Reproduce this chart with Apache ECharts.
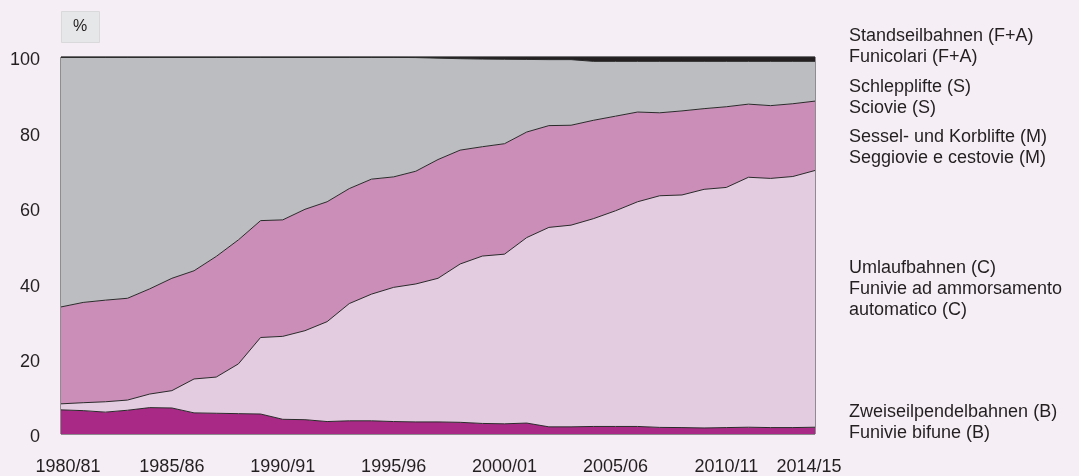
<!DOCTYPE html>
<html>
<head>
<meta charset="utf-8">
<script src="https://cdn.jsdelivr.net/npm/echarts@6/dist/echarts.min.js"></script>
<style>
  html, body { margin: 0; padding: 0; background: #f5eef5; }
  #chart { width: 1079px; height: 476px; }
</style>
</head>
<body>
<div id="chart"></div>
<script>
// Seasons 1980/81 – 2014/15
const years = [
  '1980/81','1981/82','1982/83','1983/84','1984/85','1985/86','1986/87','1987/88','1988/89','1989/90',
  '1990/91','1991/92','1992/93','1993/94','1994/95','1995/96','1996/97','1997/98','1998/99','1999/00',
  '2000/01','2001/02','2002/03','2003/04','2004/05','2005/06','2006/07','2007/08','2008/09','2009/10',
  '2010/11','2011/12','2012/13','2013/14','2014/15'
];
// Labelled seasons on the x axis
const shownYears = ['1980/81','1985/86','1990/91','1995/96','2000/01','2005/06','2010/11','2014/15'];
const yTicks = [0, 20, 40, 60, 80, 100];

// Share of each installation type, in %
const bifune = [6.4,6.2,5.8,6.3,7.0,6.9,5.6,5.5,5.4,5.3,3.9,3.8,3.3,3.5,3.5,3.3,3.2,3.2,3.1,2.8,
  2.7,2.9,1.9,1.9,2.0,2.0,2.0,1.75,1.7,1.6,1.7,1.8,1.7,1.7,1.8];
const umlauf = [1.6,2.1,2.75,2.7,3.6,4.6,9.0,9.6,13.2,20.3,22.0,23.6,26.5,31.1,33.6,35.6,36.6,38.1,42.0,44.4,
  45.0,49.2,52.9,53.5,55.1,57.2,59.6,61.45,61.7,63.3,63.7,66.3,66.1,66.6,68.1];
const sessel = [25.7,26.6,26.95,27.0,27.9,29.8,28.7,32.0,32.9,31.0,30.9,32.2,31.8,30.5,30.5,29.3,29.9,31.5,30.2,29.0,
  29.3,28.0,27.0,26.5,26.1,25.1,23.8,22.0,22.3,21.4,21.4,19.4,19.3,19.3,18.4];
const schlepp = [66.2,65.0,64.4,63.9,61.4,58.6,56.6,52.8,48.4,43.3,43.1,40.3,38.3,34.8,32.3,31.7,30.15,26.9,24.25,23.25,
  22.4,19.25,17.5,17.4,15.65,14.55,13.45,13.65,13.15,12.55,12.05,11.35,11.75,11.25,10.55];
const standseil = [0.1,0.1,0.1,0.1,0.1,0.1,0.1,0.1,0.1,0.1,0.1,0.1,0.1,0.1,0.1,0.1,0.15,0.3,0.45,0.55,
  0.6,0.65,0.7,0.7,1.15,1.15,1.15,1.15,1.15,1.15,1.15,1.15,1.15,1.15,1.15];

const FONT = '"Liberation Sans", Arial, sans-serif';
const TXT = '#231f20';

function layer(name, data, color) {
  return {
    name: name,
    type: 'line',
    stack: 'total',
    data: data,
    symbol: 'none',
    smooth: false,
    lineStyle: { color: '#2a2a2a', width: 1 },
    areaStyle: { color: color, opacity: 1 },
    emphasis: { disabled: true },
    silent: true
  };
}

const legendLines = [
  { y: 36, t: 'Standseilbahnen (F+A)' },
  { y: 57, t: 'Funicolari (F+A)' },
  { y: 87, t: 'Schlepplifte (S)' },
  { y: 108, t: 'Sciovie (S)' },
  { y: 137, t: 'Sessel- und Korblifte (M)' },
  { y: 158, t: 'Seggiovie e cestovie (M)' },
  { y: 268, t: 'Umlaufbahnen (C)' },
  { y: 289, t: 'Funivie ad ammorsamento' },
  { y: 310, t: 'automatico (C)' },
  { y: 412, t: 'Zweiseilpendelbahnen (B)' },
  { y: 433, t: 'Funivie bifune (B)' }
];

const chart = echarts.init(document.getElementById('chart'), null, { renderer: 'canvas' });
chart.setOption({
  backgroundColor: '#f5eef5',
  animation: false,
  grid: { left: 61, right: 264, top: 57, bottom: 42, show: true, borderColor: '#2a2a2a', borderWidth: 1, backgroundColor: 'transparent' },
  xAxis: {
    type: 'category',
    data: years,
    boundaryGap: false,
    axisLine: { show: false },
    axisTick: { show: false },
    splitLine: { show: false },
    axisLabel: {
      interval: (i, v) => shownYears.indexOf(v) >= 0,
      margin: 24,
      fontFamily: FONT,
      fontSize: 18,
      color: TXT,
      formatter: (v) => v === years[0] ? '{first|' + v + '}' : (v === years[years.length - 1] ? '{last|' + v + '}' : v),
      rich: {
        first: { padding: [0, 0, 0, 14], fontFamily: FONT, fontSize: 18, color: TXT },
        last: { padding: [0, 12, 0, 0], fontFamily: FONT, fontSize: 18, color: TXT }
      }
    }
  },
  yAxis: {
    type: 'value',
    min: yTicks[0],
    max: yTicks[yTicks.length - 1],
    interval: 20,
    axisLine: { show: false },
    axisTick: { show: false },
    splitLine: { show: false },
    axisLabel: {
      margin: 21,
      fontFamily: FONT,
      fontSize: 18,
      color: TXT,
      formatter: (v) => '{v|' + v + '}',
      rich: { v: { padding: [7, 0, 0, 0], fontFamily: FONT, fontSize: 18, color: TXT } }
    }
  },
  series: [
    layer('Zweiseilpendelbahnen (B)', bifune, '#a92a86'),
    layer('Umlaufbahnen (C)', umlauf, '#e3cbe0'),
    layer('Sessel- und Korblifte (M)', sessel, '#ca8eb8'),
    layer('Schlepplifte (S)', schlepp, '#bcbdc0'),
    layer('Standseilbahnen (F+A)', standseil, '#231f20')
  ],
  graphic: [
    {
      type: 'rect',
      left: 61, top: 11,
      shape: { width: 38, height: 31 },
      style: { fill: '#e6e7e8', stroke: '#d9d9db', lineWidth: 1 }
    },
    {
      type: 'text',
      x: 80, y: 27,
      style: { text: '%', fontFamily: FONT, fontSize: 16, fill: TXT, align: 'center', verticalAlign: 'middle' }
    }
  ].concat(legendLines.map(l => ({
    type: 'text',
    x: 849, y: l.y,
    style: { text: l.t, fontFamily: FONT, fontSize: 18, fill: TXT, align: 'left', verticalAlign: 'middle' }
  })))
});
</script>
</body>
</html>
